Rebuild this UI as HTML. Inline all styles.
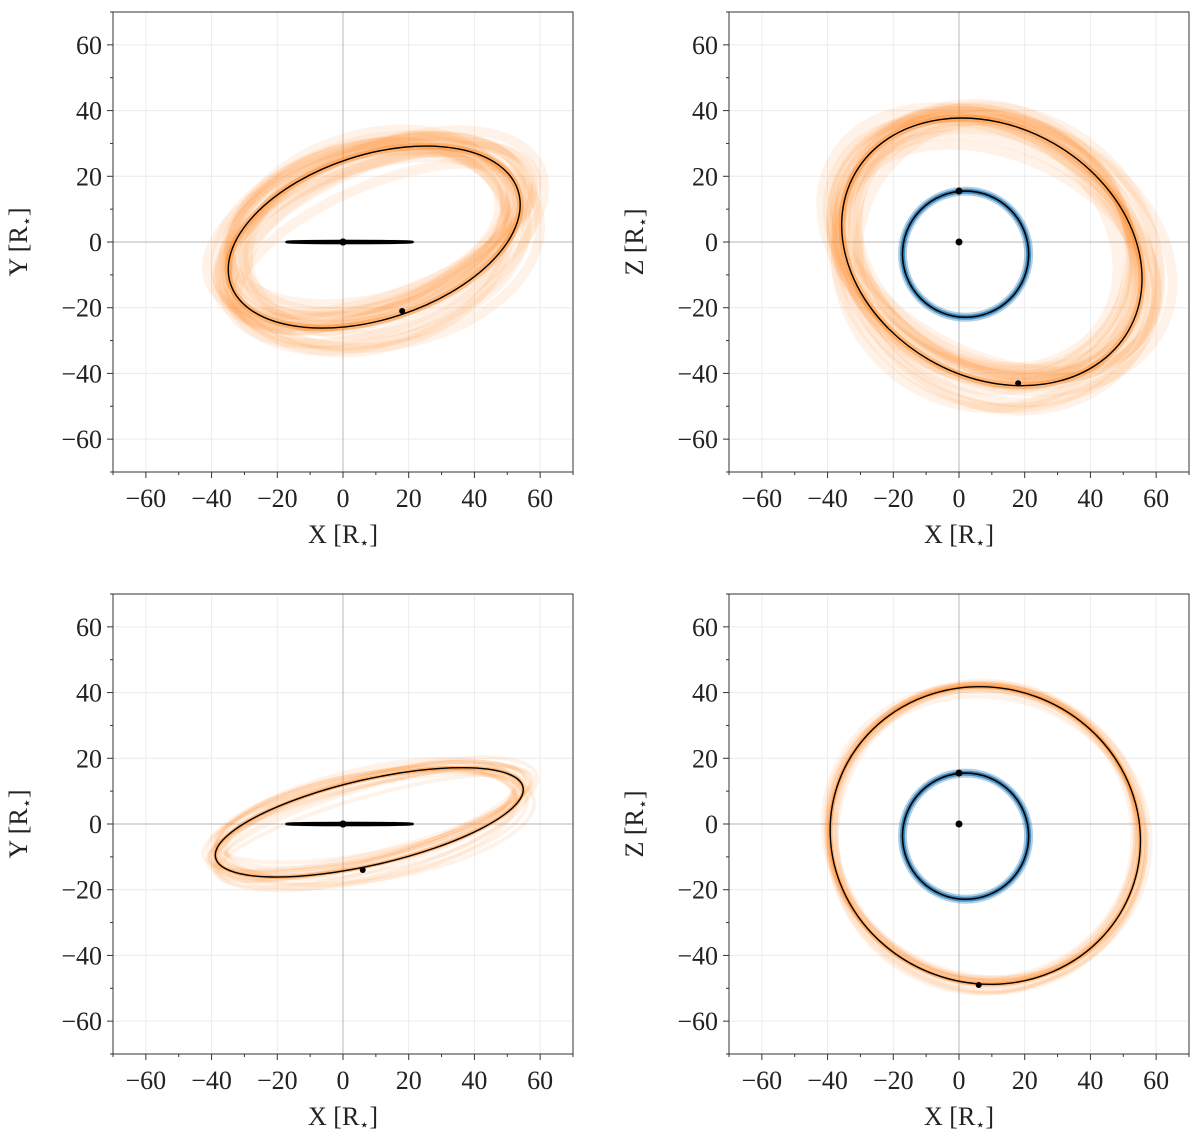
<!DOCTYPE html>
<html><head><meta charset="utf-8"><style>
body{margin:0;background:#fff;}
svg text{font-family:"Liberation Serif","DejaVu Serif",serif;}
</style></head><body>
<svg id="fig" width="1200" height="1141" viewBox="0 0 1200 1141" xmlns="http://www.w3.org/2000/svg"></svg>
<script>
// ---- data ----
const tickValues = [-60,-40,-20,0,20,40,60];
const tickLabels = ["\u221260","\u221240","\u221220","0","20","40","60"];
const panelNames = ["xy-top","xz-top","xy-bottom","xz-bottom"];
const panelYLabels = ["Y","Z","Y","Z"];
// outer orbit ellipse params (data units): cx, cy, a, b, angle(deg)
const outerCx = [9.5, 10, 8, 8];
const outerCy = [1.5, -3, 0.5, -3.5];
const outerA = [46, 48, 48, 47.5];
const outerB = [25, 38, 13, 45];
const outerAng = [18, -30, 13, -20];
// inner orbit ellipse params
const innerCx = [2, 2, 2, 2];
const innerCy = [0, -3.7, 0, -3.7];
const innerA = [19.2, 19.2, 19.2, 19.2];
const innerB = [0.3, 19.2, 0.3, 19.2];
// markers
const outerDotX = [18, 18, 6, 6];
const outerDotY = [-21, -43, -14, -49];
const innerDotX = [0, 0, 0, 0];
const innerDotY = [0, 15.5, 0, 15.5];
// spread of posterior orbit samples
const spreadScale = [1, 1, 0.55, 0.35];
const dA = [3,-4,5,-2,6,-5,2,-3,4,-6,1,-1,3,-2,0,2,-3,5];
const dB = [4,-3,-5,6,2,-2,5,-4,-1,3,-6,2,1,-3,-4,6,3,-2];
const dAng = [4,-5,2,-3,6,-2,-6,3,1,-4,5,-1,2,-2,7,-7,0,3];
const dCx = [2,-3,1,-2,3,0,-1,2,-3,1,2,-2,0,1,-1,3,-2,0];
const dCy = [-2,3,2,-3,0,2,-2,1,3,-1,-3,2,1,0,-1,-2,3,1];

// ---- layout ----
const svg = document.getElementById('fig');
const NS = 'http://www.w3.org/2000/svg';
const frames = [[113,12],[729,12],[113,594],[729,594]];
const W = 460, H = 460, lim = 70, s = W/(2*lim);
function mk(tag, attrs, parent){const e=document.createElementNS(NS,tag);for(const k in attrs)e.setAttribute(k,attrs[k]);(parent||svg).appendChild(e);return e;}

panelNames.forEach((pn, i) => {
  const [fx, fy] = frames[i];
  const sx = v => fx + (v + lim) * s;
  const sy = v => fy + (lim - v) * s;
  const g = mk('g', {});
  
  
  for (let v = -60; v <= 60; v += 20) {
    if (v === 0) continue;
    const l1 = mk('line', {x1:sx(v),x2:sx(v),y1:fy,y2:fy+H,stroke:'#ececec','stroke-width':1}, g);
     
    const l2 = mk('line', {x1:fx,x2:fx+W,y1:sy(v),y2:sy(v),stroke:'#ececec','stroke-width':1}, g);
     
  }
  const z1 = mk('line',{x1:sx(0),x2:sx(0),y1:fy,y2:fy+H,stroke:'#c4c4c4','stroke-width':1.2},g);
   
  const z2 = mk('line',{x1:fx,x2:fx+W,y1:sy(0),y2:sy(0),stroke:'#c4c4c4','stroke-width':1.2},g);
   

  function ell(cx, cy, a, b, ang, attrs, name) {
    const e = mk('ellipse', Object.assign({cx:sx(cx), cy:sy(cy), rx:a*s, ry:Math.max(b*s,0.5), fill:'none',
      transform:`rotate(${-ang} ${sx(cx)} ${sy(cy)})`}, attrs), g);
    
    
    return e;
  }
  const k = spreadScale[i];
  for (let j = 0; j < dA.length; j++) {
    ell(outerCx[i]+dCx[j]*k, outerCy[i]+dCy[j]*k, outerA[i]+dA[j]*k, Math.max(outerB[i]+dB[j]*k,2), outerAng[i]+dAng[j]*k,
      {stroke:'#ff7f0e','stroke-opacity':0.09,'stroke-width':k>0.6?10:4}, 'outer-orbit-sample');
  }
  ell(outerCx[i], outerCy[i], outerA[i], outerB[i], outerAng[i], {stroke:'#ff7f0e','stroke-opacity':0.4,'stroke-width':k>0.6?7:4}, 'outer-orbit-band');
  ell(innerCx[i], innerCy[i], innerA[i], innerB[i], 0, {stroke:'#1f77b4','stroke-opacity':0.35,'stroke-width':i%2?9:3}, 'inner-orbit-band');
  ell(innerCx[i], innerCy[i], innerA[i], innerB[i], 0, {stroke:'#1f77b4','stroke-opacity':0.75,'stroke-width':i%2?5:2}, 'inner-orbit-sample');
  ell(outerCx[i], outerCy[i], outerA[i], outerB[i], outerAng[i], {stroke:'#000','stroke-width':1.4}, 'outer-orbit-bestfit');
  ell(innerCx[i], innerCy[i], innerA[i], innerB[i], 0, {stroke:'#000','stroke-width':i%2?1.6:2.5}, 'inner-orbit-bestfit');
  const d1 = mk('circle',{cx:sx(outerDotX[i]),cy:sy(outerDotY[i]),r:3,fill:'#000'},g);
   
  const d2 = mk('circle',{cx:sx(innerDotX[i]),cy:sy(innerDotY[i]),r:3.5,fill:'#000'},g);
   
  const d3 = mk('circle',{cx:sx(0),cy:sy(0),r:3.5,fill:'#000'},g);
   

  const fr = mk('rect',{x:fx,y:fy,width:W,height:H,fill:'none',stroke:'#333','stroke-width':1},g);
   
  for (let v = -70; v <= 70; v += 10) {
    const major = v % 20 === 0 && Math.abs(v) <= 60;
    const len = major ? 6 : 3;
    const t1 = mk('line',{x1:sx(v),x2:sx(v),y1:fy+H,y2:fy+H+len,stroke:'#333','stroke-width':1},g);
     
    const t2 = mk('line',{x1:fx,x2:fx-len,y1:sy(v),y2:sy(v),stroke:'#333','stroke-width':1},g);
     
  }
  tickValues.forEach((v, t) => {
    const tx = mk('text',{x:sx(v),y:fy+H+35,'text-anchor':'middle','font-size':26,fill:'#222'},g);
    tx.textContent = tickLabels[t];
     
    const ty = mk('text',{x:fx-11,y:sy(v)+9,'text-anchor':'end','font-size':26,fill:'#222'},g);
    ty.textContent = tickLabels[t];
     
  });
  const xl = mk('text',{x:fx+W/2,y:fy+H+71,'text-anchor':'middle','font-size':26,fill:'#222'},g);
  xl.innerHTML = 'X [R<tspan font-size="16" dy="5">\u22c6</tspan><tspan dy="-5">]</tspan>';
   
  const yl = mk('text',{x:0,y:0,'text-anchor':'middle','font-size':26,fill:'#222',transform:`translate(${fx-86},${fy+H/2}) rotate(-90)`},g);
  yl.innerHTML = panelYLabels[i] + ' [R<tspan font-size="16" dy="5">\u22c6</tspan><tspan dy="-5">]</tspan>';
   
});
</script>
</body></html>
